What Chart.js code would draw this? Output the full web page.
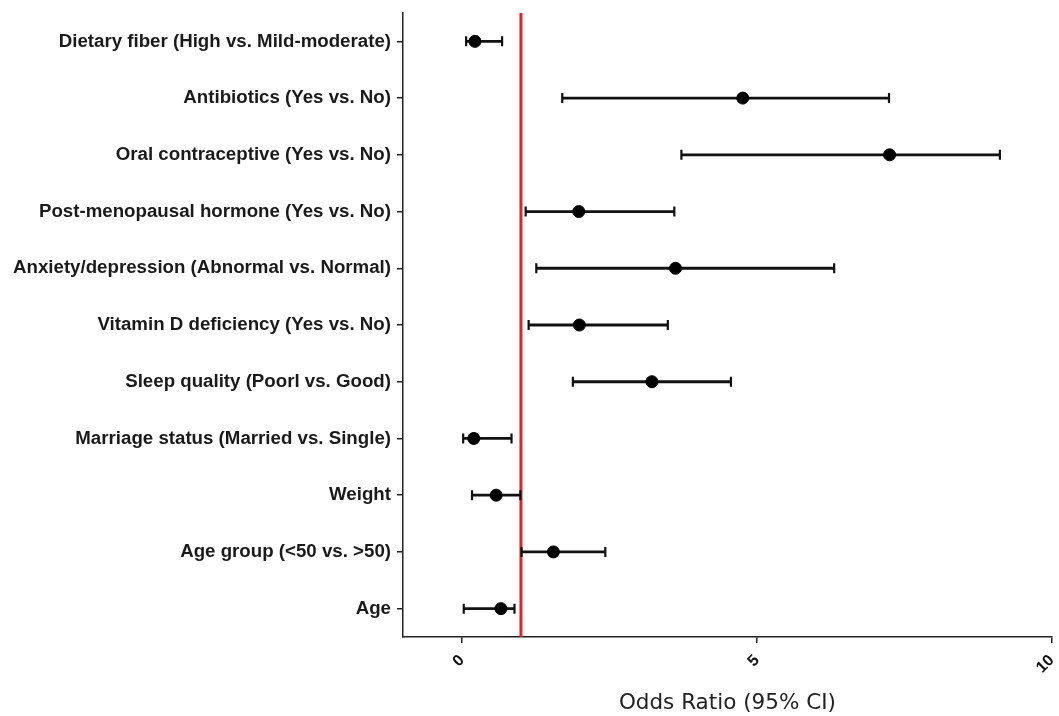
<!DOCTYPE html>
<html>
<head>
<meta charset="utf-8">
<script src="https://cdn.jsdelivr.net/npm/chart.js@4/dist/chart.umd.min.js"></script>
<style>
  html, body { margin: 0; padding: 0; background: #fff; }
  #wrap { width: 1059px; height: 716px; }
</style>
</head>
<body>
<div id="wrap"><canvas id="c" width="1059" height="716"></canvas></div>
<script>
const categories = [
  'Dietary fiber (High vs. Mild-moderate)',
  'Antibiotics (Yes vs. No)',
  'Oral contraceptive (Yes vs. No)',
  'Post-menopausal hormone (Yes vs. No)',
  'Anxiety/depression (Abnormal vs. Normal)',
  'Vitamin D deficiency (Yes vs. No)',
  'Sleep quality (Poorl vs. Good)',
  'Marriage status (Married vs. Single)',
  'Weight',
  'Age group (<50 vs. >50)',
  'Age'
];
const oddsRatio = [0.22, 4.76, 7.25, 1.98, 3.62, 1.99, 3.22, 0.20, 0.58, 1.55, 0.66];
const ciLower   = [0.07, 1.70, 3.72, 1.08, 1.26, 1.13, 1.88, 0.02, 0.17, 1.01, 0.03];
const ciUpper   = [0.68, 7.24, 9.12, 3.60, 6.31, 3.49, 4.56, 0.84, 0.99, 2.43, 0.89];
const xTicks = [0, 5, 10];
const referenceValue = 1;
const xMin = -1, xMax = 10;

const INK = '#111111';

const whiskerSets = categories.map((c, i) => ({
  type: 'line',
  data: [{x: ciLower[i], y: i}, {x: ciUpper[i], y: i}],
  borderColor: INK,
  borderWidth: 2.8,
  pointRadius: 0,
  fill: false,
  order: 3
}));

const capPoints = [];
categories.forEach((c, i) => {
  capPoints.push({x: ciLower[i], y: i});
  capPoints.push({x: ciUpper[i], y: i});
});

const datasets = [
  {
    type: 'line',
    data: [{x: referenceValue, y: -0.5}, {x: referenceValue, y: categories.length - 0.5}],
    borderColor: '#d9262c',
    borderWidth: 3,
    pointRadius: 0,
    fill: false,
    order: 4
  },
  ...whiskerSets,
  {
    type: 'scatter',
    data: capPoints,
    pointStyle: 'line',
    rotation: 90,
    pointRadius: 5,
    borderColor: INK,
    borderWidth: 2.2,
    order: 2
  },
  {
    type: 'scatter',
    data: oddsRatio.map((v, i) => ({x: v, y: i})),
    pointStyle: 'circle',
    pointRadius: 6,
    backgroundColor: '#000',
    borderColor: '#000',
    borderWidth: 1,
    order: 1
  }
];

new Chart(document.getElementById('c'), {
  type: 'scatter',
  data: { datasets },
  options: {
    responsive: false,
    animation: false,
    layout: { padding: { top: 13, right: 7, left: 0, bottom: 0 } },
    plugins: { legend: { display: false }, tooltip: { enabled: false } },
    scales: {
      x: {
        type: 'linear',
        min: xMin,
        max: xMax,
        afterBuildTicks: (s) => { s.ticks = xTicks.map(v => ({value: v})); },
        afterFit: (s) => { s.height = 79; s.paddingLeft = 0; s.paddingRight = 0; },
        grid: { display: true, drawOnChartArea: false, drawTicks: true, tickLength: 6, color: '#222', lineWidth: 1.5 },
        border: { display: true, color: '#222', width: 1.5 },
        ticks: {
          minRotation: 45, maxRotation: 45, padding: 8,
          color: '#111',
          font: { family: '"Liberation Sans", Arial, sans-serif', size: 16, weight: 'bold' }
        },
        title: {
          display: true,
          text: 'Odds Ratio (95% CI)',
          color: '#222',
          font: { family: '"DejaVu Sans", sans-serif', size: 21.5, lineHeight: 1.0 },
          padding: { top: 4, bottom: 2 }
        }
      },
      y: {
        type: 'linear',
        reverse: true,
        min: -0.5,
        max: categories.length - 0.5,
        afterBuildTicks: (s) => { s.ticks = categories.map((c, i) => ({value: i})); },
        afterFit: (s) => { s.width = 403; s.paddingTop = 0; s.paddingBottom = 0; },
        grid: { display: true, drawOnChartArea: false, drawTicks: true, tickLength: 6, color: '#222', lineWidth: 1.5 },
        border: { display: true, color: '#222', width: 1.5 },
        ticks: {
          padding: 6,
          color: '#1a1a1a',
          font: { family: '"Liberation Sans", Arial, sans-serif', size: 18.7, weight: 'bold' },
          callback: (v) => categories[v]
        }
      }
    }
  }
});
</script>
</body>
</html>
